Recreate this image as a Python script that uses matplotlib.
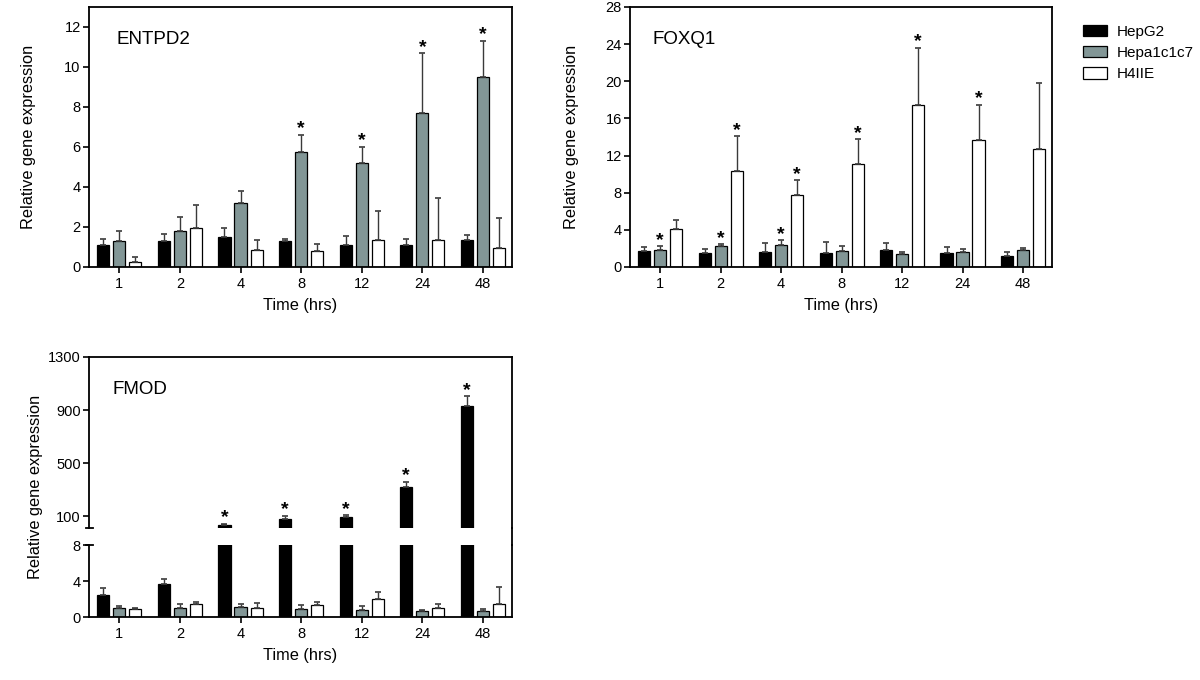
import matplotlib
matplotlib.use('Agg')
import matplotlib.pyplot as plt
from matplotlib.patches import Patch
from matplotlib.lines import Line2D
import numpy as np

plt.rcParams['font.family'] = ['Liberation Sans', 'DejaVu Sans']

TIMES = ['1', '2', '4', '8', '12', '24', '48']
SERIES = ['HepG2', 'Hepa1c1c7', 'H4IIE']
COLORS = ['#000000', '#829696', '#FFFFFF']
ERR_COLOR = '#3a3a3a'

# ENTPD2
ENTPD2_HEPG2 = [1.12, 1.30, 1.52, 1.29, 1.12, 1.09, 1.35]
ENTPD2_HEPG2_SD = [0.28, 0.37, 0.45, 0.13, 0.44, 0.33, 0.24]
ENTPD2_HEPA = [1.30, 1.82, 3.21, 5.74, 5.20, 7.68, 9.48]
ENTPD2_HEPA_SD = [0.52, 0.69, 0.59, 0.88, 0.82, 3.01, 1.84]
ENTPD2_H4IIE = [0.27, 1.97, 0.84, 0.80, 1.35, 1.35, 0.95]
ENTPD2_H4IIE_SD = [0.21, 1.11, 0.51, 0.35, 1.46, 2.08, 1.49]
ENTPD2_STARS = [[], [3, 4, 5, 6], []]

# FOXQ1
FOXQ1_HEPG2 = [1.68, 1.51, 1.65, 1.54, 1.79, 1.47, 1.15]
FOXQ1_HEPG2_SD = [0.47, 0.39, 0.93, 1.15, 0.83, 0.68, 0.50]
FOXQ1_HEPA = [1.83, 2.29, 2.37, 1.76, 1.40, 1.61, 1.83]
FOXQ1_HEPA_SD = [0.39, 0.18, 0.57, 0.53, 0.25, 0.33, 0.21]
FOXQ1_H4IIE = [4.09, 10.36, 7.71, 11.08, 17.42, 13.66, 12.69]
FOXQ1_H4IIE_SD = [0.96, 3.73, 1.68, 2.68, 6.20, 3.83, 7.17]
FOXQ1_STARS = [[], [0, 1, 2], [1, 2, 3, 4, 5]]

# FMOD
FMOD_HEPG2 = [2.48, 3.70, 32, 82, 97.5, 324, 928]
FMOD_HEPG2_SD = [0.82, 0.52, 13, 23, 10, 38, 78]
FMOD_HEPA = [1.00, 1.07, 1.19, 0.89, 0.78, 0.67, 0.70]
FMOD_HEPA_SD = [0.30, 0.41, 0.25, 0.48, 0.48, 0.18, 0.26]
FMOD_H4IIE = [0.93, 1.44, 1.07, 1.33, 2.00, 1.00, 1.48]
FMOD_H4IIE_SD = [0.07, 0.23, 0.56, 0.41, 0.85, 0.44, 1.85]
FMOD_STARS = [[2, 3, 4, 5, 6], [], []]

W, H = 1200, 680
fig = plt.figure(figsize=(W / 100, H / 100), dpi=100)
fig.patch.set_facecolor('white')

LABEL_FS = 11.8
TICK_FS = 10.5


def px_axes(left, top, right, bottom):
    return fig.add_axes([left / W, 1 - bottom / H, (right - left) / W, (bottom - top) / H])


X = np.arange(len(TIMES))
BW = 0.2
OFFS = [-0.265, 0.0, 0.265]


def style(ax, xticks=True):
    for s in ax.spines.values():
        s.set_linewidth(1.3)
    ax.tick_params(axis='y', direction='out', length=4, width=1.2, pad=2,
                   labelsize=TICK_FS, right=False)
    if xticks:
        ax.set_xticks(X)
        ax.set_xticklabels(TIMES)
        ax.tick_params(axis='x', direction='out', length=4, width=1.2, pad=3,
                       labelsize=TICK_FS, top=False)
    else:
        ax.set_xticks([])
    ax.set_xlim(-0.5, 6.48)


def draw_bars(ax, means, sds, stars, floor=None):
    for k in range(3):
        m = np.array(means[k], dtype=float)
        s = np.array(sds[k], dtype=float)
        keep = np.ones(len(m), bool) if floor is None else m > floor
        xs = X + OFFS[k]
        ax.bar(xs[keep], m[keep], width=BW, color=COLORS[k], edgecolor='black',
               linewidth=0.9, zorder=2)
        ax.errorbar(xs[keep], m[keep], yerr=[np.zeros(keep.sum()), s[keep]],
                    fmt='none', ecolor=ERR_COLOR, elinewidth=1.0, capsize=2.5,
                    capthick=1.2, zorder=3)
        for i in stars[k]:
            ax.annotate('*', (xs[i], m[i] + s[i]), xytext=(0, 0.8),
                        textcoords='offset points', ha='center', va='baseline',
                        fontsize=14, fontweight='bold', zorder=4)


# ENTPD2
ax1 = px_axes(89, 7, 512, 267)
draw_bars(ax1, [ENTPD2_HEPG2, ENTPD2_HEPA, ENTPD2_H4IIE],
          [ENTPD2_HEPG2_SD, ENTPD2_HEPA_SD, ENTPD2_H4IIE_SD], ENTPD2_STARS)
ax1.set_ylim(0, 13)
ax1.set_yticks(range(0, 13, 2))
style(ax1)
ax1.set_ylabel('Relative gene expression', fontsize=LABEL_FS)
ax1.yaxis.set_label_coords(-0.126, 0.5)
ax1.set_xlabel('Time (hrs)', fontsize=LABEL_FS, labelpad=5)
fig.text(116 / W, 1 - 40 / H, 'ENTPD2', fontsize=13.5, va='center', ha='left')

# FOXQ1
ax2 = px_axes(630, 7, 1052, 267)
draw_bars(ax2, [FOXQ1_HEPG2, FOXQ1_HEPA, FOXQ1_H4IIE],
          [FOXQ1_HEPG2_SD, FOXQ1_HEPA_SD, FOXQ1_H4IIE_SD], FOXQ1_STARS)
ax2.set_ylim(0, 28)
ax2.set_yticks(range(0, 29, 4))
style(ax2)
ax2.set_ylabel('Relative gene expression', fontsize=LABEL_FS)
ax2.yaxis.set_label_coords(-0.121, 0.5)
ax2.set_xlabel('Time (hrs)', fontsize=LABEL_FS, labelpad=5)
fig.text(652 / W, 1 - 40 / H, 'FOXQ1', fontsize=13.5, va='center', ha='left')

# FMOD (broken axis)
means3 = [FMOD_HEPG2, FMOD_HEPA, FMOD_H4IIE]
sds3 = [FMOD_HEPG2_SD, FMOD_HEPA_SD, FMOD_H4IIE_SD]
UPPER_MIN = 10
ax3u = px_axes(89, 357, 512, 528.3)
ax3l = px_axes(89, 545.3, 512, 617.3)
draw_bars(ax3u, means3, sds3, FMOD_STARS, floor=UPPER_MIN)
draw_bars(ax3l, means3, sds3, [[], [], []])
ax3u.set_ylim(UPPER_MIN, 1300)
ax3u.set_yticks([100, 500, 900, 1300])
ax3l.set_ylim(0, 8)
ax3l.set_yticks([0, 4, 8])
style(ax3u, xticks=False)
style(ax3l)
ax3u.spines['bottom'].set_visible(False)
ax3l.spines['top'].set_visible(False)
ax3l.set_xlabel('Time (hrs)', fontsize=LABEL_FS, labelpad=5)
d = 3.5 / 423
ax3u.plot([-d, d], [0, 0], transform=ax3u.transAxes, color='black',
          lw=1.3, clip_on=False)
ax3l.plot([-d, d], [1, 1], transform=ax3l.transAxes, color='black',
          lw=1.3, clip_on=False)
fig.add_artist(Line2D([512 / W, 512 / W], [1 - 528.3 / H, 1 - 545.3 / H],
                      color='black', lw=1.3))
fig.text(35.7 / W, 1 - 487 / H, 'Relative gene expression', fontsize=LABEL_FS,
         rotation=90, ha='center', va='center')
fig.text(113 / W, 1 - 390 / H, 'FMOD', fontsize=13.5, va='center', ha='left')

# legend
handles = [Patch(facecolor=c, edgecolor='black', linewidth=0.9) for c in COLORS]
fig.legend(handles, SERIES, loc='upper left', bbox_to_anchor=(1082.7 / W, 1 - 24.5 / H),
           frameon=False, fontsize=11, borderpad=0, handlelength=1.57,
           handleheight=0.78, labelspacing=0.48, handletextpad=0.65,
           borderaxespad=0)

fig.savefig('out.png', dpi=100, facecolor='white')
